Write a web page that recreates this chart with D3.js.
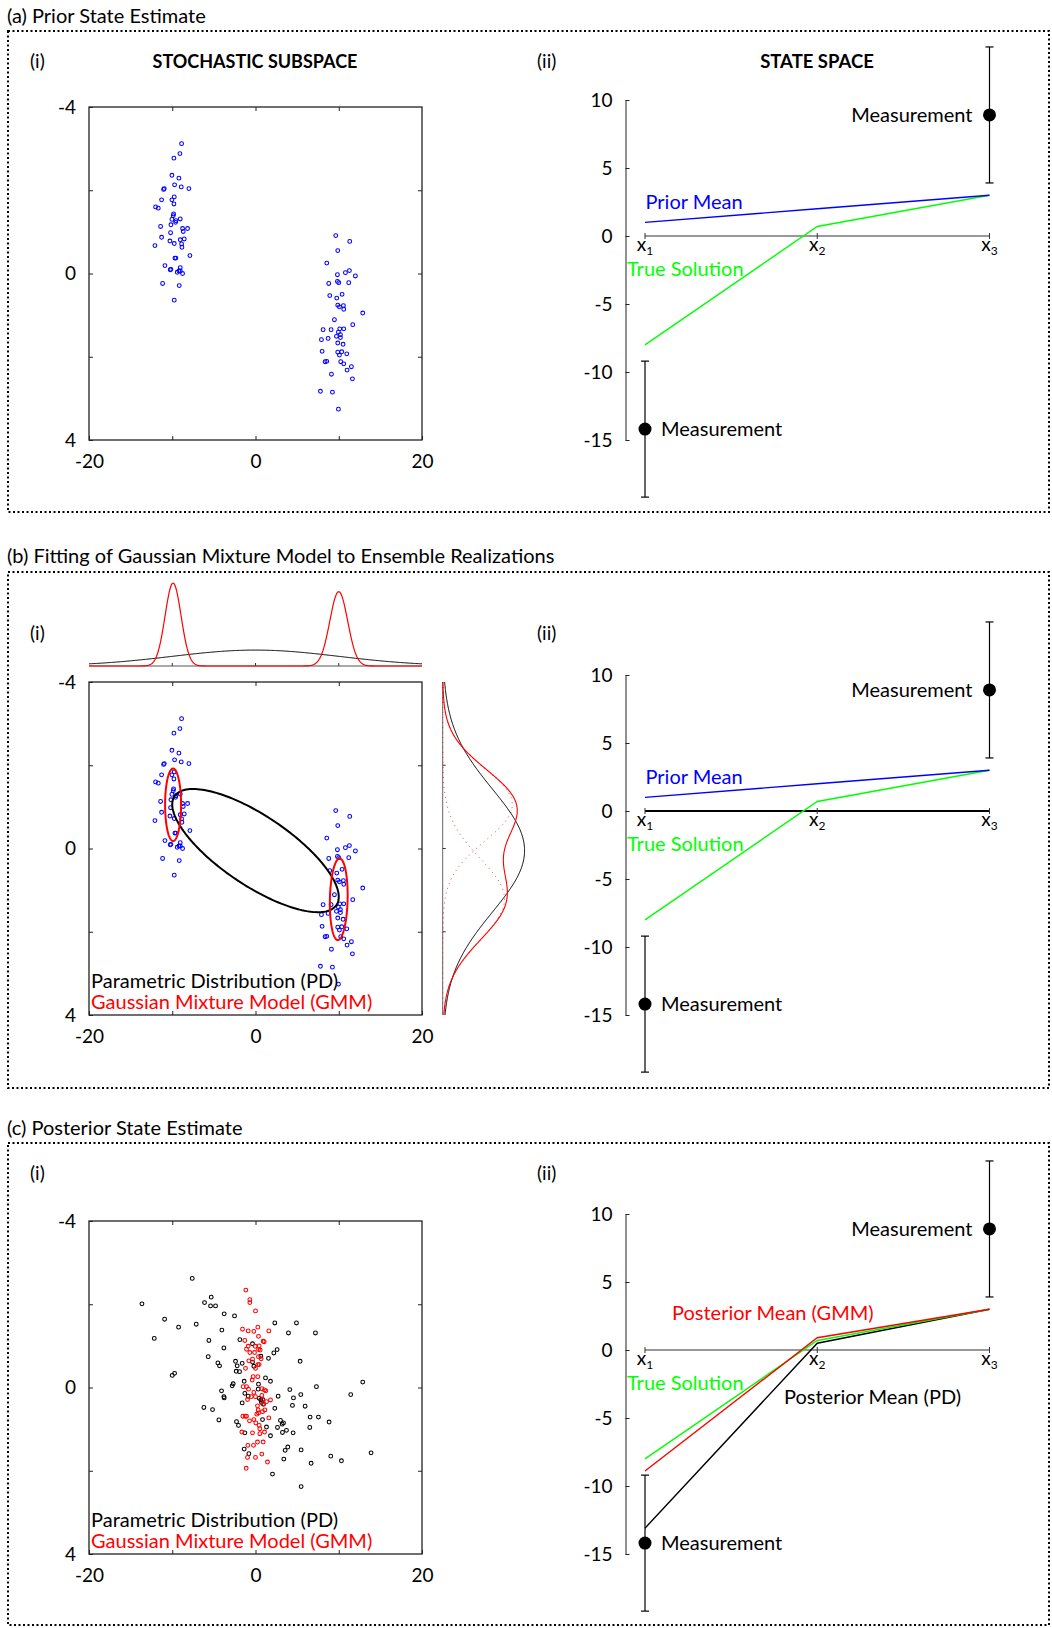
<!DOCTYPE html>
<html>
<head>
<meta charset="utf-8">
<script src="https://cdn.jsdelivr.net/npm/d3@7"></script>
<style>
  body { margin: 0; background: #fff; }
  text { font-family: Lato, "Open Sans", sans-serif; }
</style>
</head>
<body>
<div id="vis"></div>
<script>
// ---- data ----
const sectionTitles = ["(a) Prior State Estimate",
  "(b) Fitting of Gaussian Mixture Model to Ensemble Realizations",
  "(c) Posterior State Estimate"];

// prior ensemble (stochastic subspace), two clusters
const priorX = [-8.88,-9.08,-9.80,-10.04,-9.20,-9.72,-8.92,-8.00,-10.96,-11.04,
  -9.76,-11.28,-10.04,-9.80,-12.00,-11.68,-9.84,-9.88,-10.04,-9.56,
  -9.04,-9.60,-10.16,-8.76,-8.16,-8.68,-11.40,-10.20,-11.28,-10.28,
  -9.04,-8.56,-9.76,-8.88,-12.08,-8.84,-7.88,-9.68,-9.56,-10.88,
  -9.04,-10.24,-10.16,-9.40,-9.20,-9.04,-8.76,-11.16,-9.16,-9.76,
  9.64,11.32,9.88,8.56,9.84,10.80,11.28,12.00,8.80,9.84,
  10.00,11.20,8.92,10.40,9.76,12.88,9.88,10.08,10.56,10.60,
  9.48,11.68,8.12,9.08,10.12,10.60,9.96,10.20,9.72,10.20,
  7.92,8.72,9.88,10.52,8.00,9.88,10.36,10.08,10.96,8.36,
  8.56,10.24,10.60,11.52,11.00,9.12,11.64,7.80,9.24,9.96];
const priorY = [-3.12,-2.88,-2.77,-2.36,-2.29,-2.13,-2.08,-2.04,-2.04,-2.02,
  -1.84,-1.77,-1.77,-1.67,-1.60,-1.57,-1.43,-1.39,-1.30,-1.27,
  -1.31,-1.23,-1.17,-1.08,-1.08,-1.01,-1.13,-0.98,-0.87,-0.78,
  -0.81,-0.83,-0.72,-0.71,-0.67,-0.63,-0.43,-0.37,-0.37,-0.19,
  -0.14,-0.09,-0.10,-0.03,-0.06,-0.06,0.00,0.24,0.29,0.64,
  -0.91,-0.77,-0.55,-0.25,0.03,-0.02,-0.07,0.06,0.24,0.19,
  0.22,0.22,0.53,0.50,0.59,0.95,0.76,0.80,0.77,0.86,
  1.11,1.23,1.35,1.35,1.33,1.33,1.41,1.47,1.51,1.54,
  1.59,1.56,1.67,1.70,1.87,1.89,1.88,1.96,1.93,2.12,
  2.11,2.12,2.17,2.24,2.32,2.42,2.53,2.83,2.85,3.26];

// posterior ensembles
const postPdX = [-7.60,-13.64,-6.12,-5.32,-5.40,-4.80,-10.92,-9.24,-7.12,-3.76,
  -2.52,-12.16,-4.04,-5.60,-3.80,-5.68,-1.88,-0.36,2.32,4.92,
  3.96,7.20,-4.52,-4.32,-2.40,-2.20,-1.60,-2.32,-1.92,-0.36,
  -0.20,0.64,1.56,2.20,2.60,5.36,-10.00,-9.72,-2.68,-2.80,
  -1.36,0.36,1.20,1.80,-4.08,-3.80,-3.76,-1.28,-0.88,0.32,
  4.12,5.44,2.72,4.56,7.32,12.88,11.44,-6.20,-5.16,-1.60,
  0.44,0.88,0.72,0.96,0.64,2.32,4.44,5.96,-4.40,-2.28,
  -2.04,0.84,3.00,3.36,3.20,6.56,7.56,8.84,-1.28,1.32,
  2.64,1.80,3.24,3.72,4.52,6.52,-1.36,-0.80,3.56,3.88,
  5.48,3.40,9.04,10.32,6.68,13.88,2.04,5.48];
const postPdY = [-2.62,-2.01,-2.04,-2.17,-1.96,-1.96,-1.64,-1.45,-1.52,-1.77,
  -1.72,-1.18,-1.38,-1.13,-0.95,-0.74,-1.15,-1.05,-1.55,-1.55,
  -1.31,-1.31,-0.59,-0.52,-0.63,-0.52,-0.58,-0.39,-0.38,-0.61,
  -0.51,-0.75,-0.70,-0.83,-0.91,-0.63,-0.29,-0.34,-0.09,-0.04,
  -0.15,-0.08,-0.23,-0.15,0.08,0.22,0.25,0.14,0.21,0.04,
  0.05,0.17,0.21,0.25,-0.02,-0.13,0.17,0.48,0.53,0.37,
  0.26,0.29,0.36,0.40,0.30,0.50,0.43,0.45,0.78,0.82,
  0.91,0.77,0.79,0.85,0.88,0.71,0.71,0.83,1.09,0.95,
  0.96,1.16,1.08,1.03,1.09,0.96,1.48,1.59,1.51,1.43,
  1.50,1.72,1.65,1.76,1.82,1.57,2.08,2.38];
const postGmmX = [-1.16,-0.68,-0.68,0.00,-1.56,-0.88,-0.20,0.28,1.60,-1.28,
  0.36,0.92,1.04,-0.88,-0.04,0.44,-1.08,-0.68,-0.12,0.36,
  0.56,-0.80,-0.36,0.36,0.68,-1.20,0.00,0.28,0.44,-0.28,
  -0.40,0.28,-1.48,-1.08,-0.84,0.76,1.08,1.24,-0.20,-0.96,
  -0.52,0.00,0.76,0.88,0.24,0.92,1.32,1.80,0.32,1.12,
  -1.08,-1.52,-1.24,0.16,0.36,0.84,1.60,-0.72,-0.20,0.04,
  0.44,0.52,-0.36,0.52,1.08,-1.64,0.24,0.92,-0.92,-0.24,
  0.76,-0.96,0.00,1.44,-1.12];
const postGmmY = [-2.34,-2.11,-2.04,-1.84,-1.40,-1.36,-1.35,-1.45,-1.36,-1.13,
  -1.23,-1.11,-1.10,-0.99,-0.99,-1.00,-0.92,-0.84,-0.84,-0.91,
  -0.90,-0.64,-0.68,-0.74,-0.69,-0.46,-0.46,-0.55,-0.55,-0.26,
  -0.18,-0.26,-0.02,-0.02,0.04,0.03,0.06,0.08,0.12,0.29,
  0.22,0.22,0.19,0.29,0.44,0.40,0.34,0.30,0.54,0.54,
  0.69,0.69,0.69,0.64,0.61,0.58,0.73,0.80,0.77,0.85,
  0.91,0.99,1.09,1.11,1.07,1.07,1.31,1.31,1.39,1.39,
  1.60,1.68,1.68,1.79,1.94];

// fitted distributions (b)
const pdMean = [0, 0.05], pdSd = [10, 1.48], pdRho = 0.75;
const gmmWeight = [0.5, 0.5];
const gmmMeanX = [-9.9, 10.0], gmmMeanY = [-1.05, 1.22];
const gmmSdX = [0.96, 1.07], gmmSdY = [0.87, 0.98], gmmRho = [0, -0.1];

// state space
const stateNodes = ["x1", "x2", "x3"];
const priorMean = [1, 2, 3];
const trueSolution = [-8, 0.7, 3];
const postMeanGmm = [-8.9, 0.9, 3];
const postMeanPd = [-13.1, 0.5, 3];
const measNodes = ["x1", "x3"];
const measValues = [-14.2, 8.9];
const measErr = [5, 5];

const subTicksX = [-20, -10, 0, 10, 20], subLabelsX = [-20, 0, 20];
const subTicksY = [-4, -2, 0, 2, 4], subLabelsY = [-4, 0, 4];
const stateTicks = [10, 5, 0, -5, -10, -15];

// ---- layout ----
const W = 1052, H = 1628;
const BLUE = "#0000ff", RED = "#ff0000", GREEN = "#00ff00";
const panelOffsets = [0, 575, 1114];
const labelBase = [68, 65, 66];
const titleBase = [23, 563, 1135];
const borders = [[31, 512], [572, 1088], [1143, 1625]];

const svg = d3.select("#vis").append("svg")
  .attr("width", W).attr("height", H);

const sx = d3.scaleLinear().domain([-20, 20]).range([89, 422]);
const sy = d3.scaleLinear().domain([-4, 4]).range([107, 440]);
const vx = d3.scalePoint().domain(stateNodes).range([645, 989.5]);
const vy = d3.scaleLinear().domain([10, -15]).range([100, 440]);
const AXIS_X = 625.5;

function normal(v, m, s) {
  return Math.exp(-0.5 * ((v - m) / s) ** 2) / (s * Math.sqrt(2 * Math.PI));
}

// section titles + dotted frames
sectionTitles.forEach((t, i) => {
  svg.append("text").attr("x", 7).attr("y", titleBase[i])
    .attr("font-size", 20).text(t);
  svg.append("rect")
    .attr("x", 8).attr("y", borders[i][0])
    .attr("width", 1041).attr("height", borders[i][1] - borders[i][0])
    .attr("fill", "none").attr("stroke", "#000")
    .attr("stroke-width", 2).attr("stroke-dasharray", "2,2.5");
});

function styleAxis(sel) {
  sel.attr("font-family", null).attr("font-size", null);
  sel.selectAll("line").attr("stroke", "#222");
  sel.selectAll("text").attr("font-size", 19).attr("fill", "#000");
}

function subspaceAxes(g) {
  g.append("rect").attr("x", sx(-20)).attr("y", sy(-4))
    .attr("width", sx(20) - sx(-20)).attr("height", sy(4) - sy(-4))
    .attr("fill", "none").attr("stroke", "#222").attr("stroke-width", 1.3);
  const fx = d => subLabelsX.includes(d) ? String(d) : "";
  const fy = d => subLabelsY.includes(d) ? String(d) : "";
  g.append("g").attr("transform", `translate(0,${sy(4)})`)
    .call(d3.axisBottom(sx).tickValues(subTicksX).tickSize(-4).tickPadding(15).tickFormat(fx))
    .call(styleAxis).select(".domain").remove();
  g.append("g").attr("transform", `translate(${sx(-20)},0)`)
    .call(d3.axisLeft(sy).tickValues(subTicksY).tickSize(-4).tickPadding(13).tickFormat(fy))
    .call(styleAxis).select(".domain").remove();
  g.append("g").attr("transform", `translate(0,${sy(-4)})`)
    .call(d3.axisTop(sx).tickValues(subTicksX.slice(1, 4)).tickSize(-4).tickFormat(""))
    .call(styleAxis).select(".domain").remove();
  g.append("g").attr("transform", `translate(${sx(20)},0)`)
    .call(d3.axisRight(sy).tickValues(subTicksY.slice(1, 4)).tickSize(-4).tickFormat(""))
    .call(styleAxis).select(".domain").remove();
}

function scatter(g, xs, ys, color) {
  g.append("g").selectAll("circle").data(xs).join("circle")
    .attr("cx", d => sx(d)).attr("cy", (d, i) => sy(ys[i])).attr("r", 1.9)
    .attr("fill", "none").attr("stroke", color).attr("stroke-width", 1.05);
}

function legendPDGMM(g) {
  g.append("text").attr("x", 91).attr("y", 413).attr("font-size", 20)
    .attr("fill", "#000").text("Parametric Distribution (PD)");
  g.append("text").attr("x", 91).attr("y", 434).attr("font-size", 20)
    .attr("fill", RED).text("Gaussian Mixture Model (GMM)");
}

function stateAxes(g, thickZero) {
  g.append("g").attr("transform", `translate(${AXIS_X},0)`)
    .call(d3.axisLeft(vy).tickValues(stateTicks).tickSize(-4).tickSizeOuter(0)
      .tickPadding(13).tickFormat(d => String(d)))
    .call(styleAxis)
    .select(".domain").attr("stroke", "#222");
  const [a, b] = vx.range();
  g.append("line").attr("x1", a).attr("x2", b).attr("y1", vy(0)).attr("y2", vy(0))
    .attr("stroke", thickZero ? "#000" : "#333").attr("stroke-width", thickZero ? 2.2 : 1.2);
  const xl = g.append("g").selectAll("g").data(stateNodes).join("g")
    .attr("transform", d => `translate(${vx(d)},${vy(0)})`);
  xl.append("line").attr("y1", -3).attr("y2", 3).attr("stroke", "#333");
  const t = xl.append("text").attr("y", 15).attr("text-anchor", "middle").attr("font-size", 19);
  t.append("tspan").text("x");
  t.append("tspan").attr("font-size", 12).attr("dy", 3.5).text(d => d.slice(1));
}

function measurements(g) {
  const m = g.append("g").selectAll("g").data(measValues).join("g");
  m.append("line").attr("x1", (d, i) => vx(measNodes[i])).attr("x2", (d, i) => vx(measNodes[i]))
    .attr("y1", (d, i) => vy(d + measErr[i])).attr("y2", (d, i) => vy(d - measErr[i]))
    .attr("stroke", "#000").attr("stroke-width", 1.2);
  [1, -1].forEach(s => {
    m.append("line")
      .attr("x1", (d, i) => vx(measNodes[i]) - 4).attr("x2", (d, i) => vx(measNodes[i]) + 4)
      .attr("y1", (d, i) => vy(d + s * measErr[i])).attr("y2", (d, i) => vy(d + s * measErr[i]))
      .attr("stroke", "#000").attr("stroke-width", 1.2);
  });
  m.append("circle").attr("cx", (d, i) => vx(measNodes[i])).attr("cy", d => vy(d))
    .attr("r", 6.5).attr("fill", "#000");
  g.append("text").attr("x", vx("x3") - 17).attr("y", vy(measValues[1]) + 7)
    .attr("text-anchor", "end").attr("font-size", 20).text("Measurement");
  g.append("text").attr("x", vx("x1") + 16).attr("y", vy(measValues[0]) + 7)
    .attr("font-size", 20).text("Measurement");
}

const stateLine = d3.line().x((d, i) => vx(stateNodes[i])).y(d => vy(d));
function drawState(g, values, color) {
  g.append("path").datum(values).attr("d", stateLine)
    .attr("fill", "none").attr("stroke", color).attr("stroke-width", 1.4);
}
function label(g, x, y, txt, color) {
  g.append("text").attr("x", x).attr("y", y + 7).attr("font-size", 20)
    .attr("fill", color).text(txt);
}

function panelLabels(g, yb) {
  g.append("text").attr("x", 30).attr("y", yb).attr("font-size", 19).text("(i)");
  g.append("text").attr("x", 537).attr("y", yb).attr("font-size", 19).text("(ii)");
}

// ---------- (a) ----------
const gA = svg.append("g").attr("transform", `translate(0,${panelOffsets[0]})`);
panelLabels(gA, labelBase[0]);
gA.append("text").attr("x", 255).attr("y", 68).attr("text-anchor", "middle")
  .attr("font-size", 18).attr("font-weight", "bold").text("STOCHASTIC SUBSPACE");
gA.append("text").attr("x", 817).attr("y", 68).attr("text-anchor", "middle")
  .attr("font-size", 18.5).attr("font-weight", "bold").text("STATE SPACE");
subspaceAxes(gA);
scatter(gA, priorX, priorY, BLUE);
stateAxes(gA, false);
drawState(gA, trueSolution, GREEN);
drawState(gA, priorMean, BLUE);
measurements(gA);
label(gA, 645.5, 202, "Prior Mean", BLUE);
label(gA, 627, 269, "True Solution", GREEN);

// ---------- (b) ----------
const gB = svg.append("g").attr("transform", `translate(0,${panelOffsets[1]})`);
panelLabels(gB, labelBase[1]);
subspaceAxes(gB);
scatter(gB, priorX, priorY, BLUE);

// covariance ellipses (1 sigma)
const angles = d3.range(0, 2 * Math.PI + 0.01, Math.PI / 90);
function ellipse(g, m, s, rho, color) {
  const pts = angles.map(t => [
    sx(m[0] + s[0] * Math.cos(t)),
    sy(m[1] + s[1] * (rho * Math.cos(t) + Math.sqrt(1 - rho * rho) * Math.sin(t)))]);
  g.append("path").attr("d", d3.line()(pts)).attr("fill", "none")
    .attr("stroke", color).attr("stroke-width", 2);
}
ellipse(gB, pdMean, pdSd, pdRho, "#000");
gmmWeight.forEach((w, k) => ellipse(gB, [gmmMeanX[k], gmmMeanY[k]], [gmmSdX[k], gmmSdY[k]], gmmRho[k], RED));
legendPDGMM(gB);

// marginal along x (top)
const denTop = d3.scaleLinear().domain([0, 0.208]).range([91, 8]);
const gridX = d3.range(-20, 20.001, 0.1);
gB.append("line").attr("x1", sx(-20)).attr("x2", sx(20)).attr("y1", denTop(0)).attr("y2", denTop(0))
  .attr("stroke", "#555").attr("stroke-width", 1);
gB.append("g").selectAll("line").data(subTicksX.slice(1, 4)).join("line")
  .attr("x1", d => sx(d)).attr("x2", d => sx(d)).attr("y1", denTop(0)).attr("y2", denTop(0) - 3)
  .attr("stroke", "#333");
const topLine = d3.line().x(d => sx(d[0])).y(d => denTop(d[1]));
gB.append("path").datum(gridX.map(v => [v, normal(v, pdMean[0], pdSd[0])]))
  .attr("d", topLine).attr("fill", "none").attr("stroke", "#000").attr("stroke-width", 1);
gB.append("path").datum(gridX.map(v => [v, d3.sum(gmmWeight, (w, k) => w * normal(v, gmmMeanX[k], gmmSdX[k]))]))
  .attr("d", topLine).attr("fill", "none").attr("stroke", RED).attr("stroke-width", 1.2);

// marginal along y (right)
const denRight = d3.scaleLinear().domain([0, 0.27]).range([442.7, 524.7]);
const gridY = d3.range(-4, 4.001, 0.02);
gB.append("line").attr("x1", denRight(0)).attr("x2", denRight(0)).attr("y1", sy(-4)).attr("y2", sy(4))
  .attr("stroke", "#666").attr("stroke-width", 1);
gB.append("g").selectAll("line").data(subTicksY.slice(1, 4)).join("line")
  .attr("x1", denRight(0)).attr("x2", denRight(0) + 3).attr("y1", d => sy(d)).attr("y2", d => sy(d))
  .attr("stroke", "#333");
const rightLine = d3.line().x(d => denRight(d[1])).y(d => sy(d[0]));
gmmWeight.forEach((w, k) => {
  gB.append("path").datum(gridY.map(v => [v, w * normal(v, gmmMeanY[k], gmmSdY[k])]))
    .attr("d", rightLine).attr("fill", "none").attr("stroke", RED).attr("stroke-width", 1)
    .attr("stroke-dasharray", "1,4").attr("opacity", 0.8);
});
gB.append("path").datum(gridY.map(v => [v, normal(v, pdMean[1], pdSd[1])]))
  .attr("d", rightLine).attr("fill", "none").attr("stroke", "#000").attr("stroke-width", 1);
gB.append("path").datum(gridY.map(v => [v, d3.sum(gmmWeight, (w, k) => w * normal(v, gmmMeanY[k], gmmSdY[k]))]))
  .attr("d", rightLine).attr("fill", "none").attr("stroke", RED).attr("stroke-width", 1.1);

stateAxes(gB, true);
drawState(gB, trueSolution, GREEN);
drawState(gB, priorMean, BLUE);
measurements(gB);
label(gB, 645.5, 202, "Prior Mean", BLUE);
label(gB, 627, 269, "True Solution", GREEN);

// ---------- (c) ----------
const gC = svg.append("g").attr("transform", `translate(0,${panelOffsets[2]})`);
panelLabels(gC, labelBase[2]);
subspaceAxes(gC);
scatter(gC, postPdX, postPdY, "#000");
scatter(gC, postGmmX, postGmmY, RED);
legendPDGMM(gC);
stateAxes(gC, false);
drawState(gC, postMeanPd, "#000");
drawState(gC, trueSolution, GREEN);
drawState(gC, postMeanGmm, RED);
measurements(gC);
label(gC, 672, 199, "Posterior Mean (GMM)", RED);
label(gC, 784, 283, "Posterior Mean (PD)", "#000");
label(gC, 627, 269, "True Solution", GREEN);
</script>
</body>
</html>
